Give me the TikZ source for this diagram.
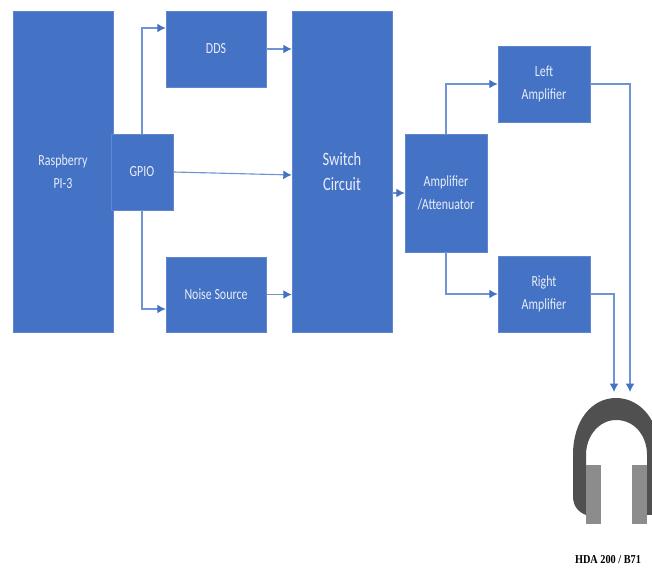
\documentclass[tikz,border=0pt]{standalone}
\usepackage{fontspec}
\setmainfont[FakeStretch=0.77]{Carlito}
\newfontfamily\capfont[FakeStretch=0.85]{Liberation Serif}
\usetikzlibrary{arrows.meta,positioning,calc}
\definecolor{blockblue}{HTML}{4472C4}
\definecolor{wireblue}{HTML}{6F93D3}
\definecolor{bandgrey}{HTML}{505050}
\definecolor{cupgrey}{HTML}{8C8C8C}
\tikzset{
  blk/.style  ={rectangle,fill=blockblue,draw=blockblue!85!white,inner sep=0pt,align=center,text=white!88!blockblue,font=\fontsize{11pt}{16.3pt}\selectfont},
  wire/.style ={wireblue,line width=0.8pt,-{Latex[length=2.1mm,width=2.2mm,color=blockblue]}},
}
\begin{document}
\begin{tikzpicture}[x=0.025cm,y=-0.025cm]
  \clip (0,0) rectangle (652,569);
  \useasboundingbox (0,0) rectangle (652,569);
  \node[blk,minimum width=2.5cm,minimum height=8.025cm](pi) at (63,171.5){Raspberry\\PI-3};
  \node[blk,minimum width=1.55cm,minimum height=1.9cm](gpio) at (142,172){GPIO};
  \node[blk,minimum width=2.5cm,minimum height=1.9cm](dds) at (216,49){DDS};
  \node[blk,minimum width=2.5cm,minimum height=1.875cm](noise) at (216,294.5){Noise Source};
  \node[blk,minimum width=2.5cm,minimum height=8.025cm,font=\fontsize{13.4pt}{18.4pt}\selectfont](switch) at (342,171.5){Switch\\Circuit};
  \node[blk,minimum width=2.05cm,minimum height=2.95cm](amp) at (446,193){Amplifier\\/Attenuator};
  \node[blk,minimum width=2.3cm,minimum height=1.9cm](left) at (544,84){Left\\Amplifier};
  \node[blk,minimum width=2.3cm,minimum height=1.9cm](right) at (544,294){Right\\Amplifier};
  \coordinate (inl) at (630,392);
  \coordinate (inr) at (614,392);
  \draw[wire](gpio.north) |- ($(dds.west)+(0,-21)$);
  \draw[wire](gpio.south) |- ($(noise.west)+(0,14.5)$);
  \draw[wire](gpio.east) -- ($(switch.west)+(0,3.5)$);
  \draw[wire](dds.east) -- (switch.west |- dds.east);
  \draw[wire](noise.east) -- (switch.west |- noise.east);
  \draw[wire](switch.east |- amp.center) -- (amp.west);
  \draw[wire](amp.north) |- (left.west);
  \draw[wire](amp.south) |- (right.west);
  \draw[wire](left.east) -| (inl);
  \draw[wire](right.east) -| (inr);
  % headphones
  \fill[bandgrey] (586,515) .. controls (578,512) and (573,506) .. (573,496) -- (573,455)
    .. controls (573,420) and (592,398) .. (616,398) .. controls (640,398) and (660,420) .. (660,455)
    -- (660,515) -- (647,515) -- (647,455) .. controls (647,435) and (634,420) .. (616,420)
    .. controls (600,420) and (586,435) .. (586,455) -- cycle;
  \fill[cupgrey] (586,465) rectangle (601,524);
  \fill[cupgrey] (632,465) rectangle (647,524);
  \node[font=\capfont\bfseries\fontsize{8.6pt}{10pt}\selectfont](cap) at (608,560){HDA 200 / B71};
\end{tikzpicture}
\end{document}
